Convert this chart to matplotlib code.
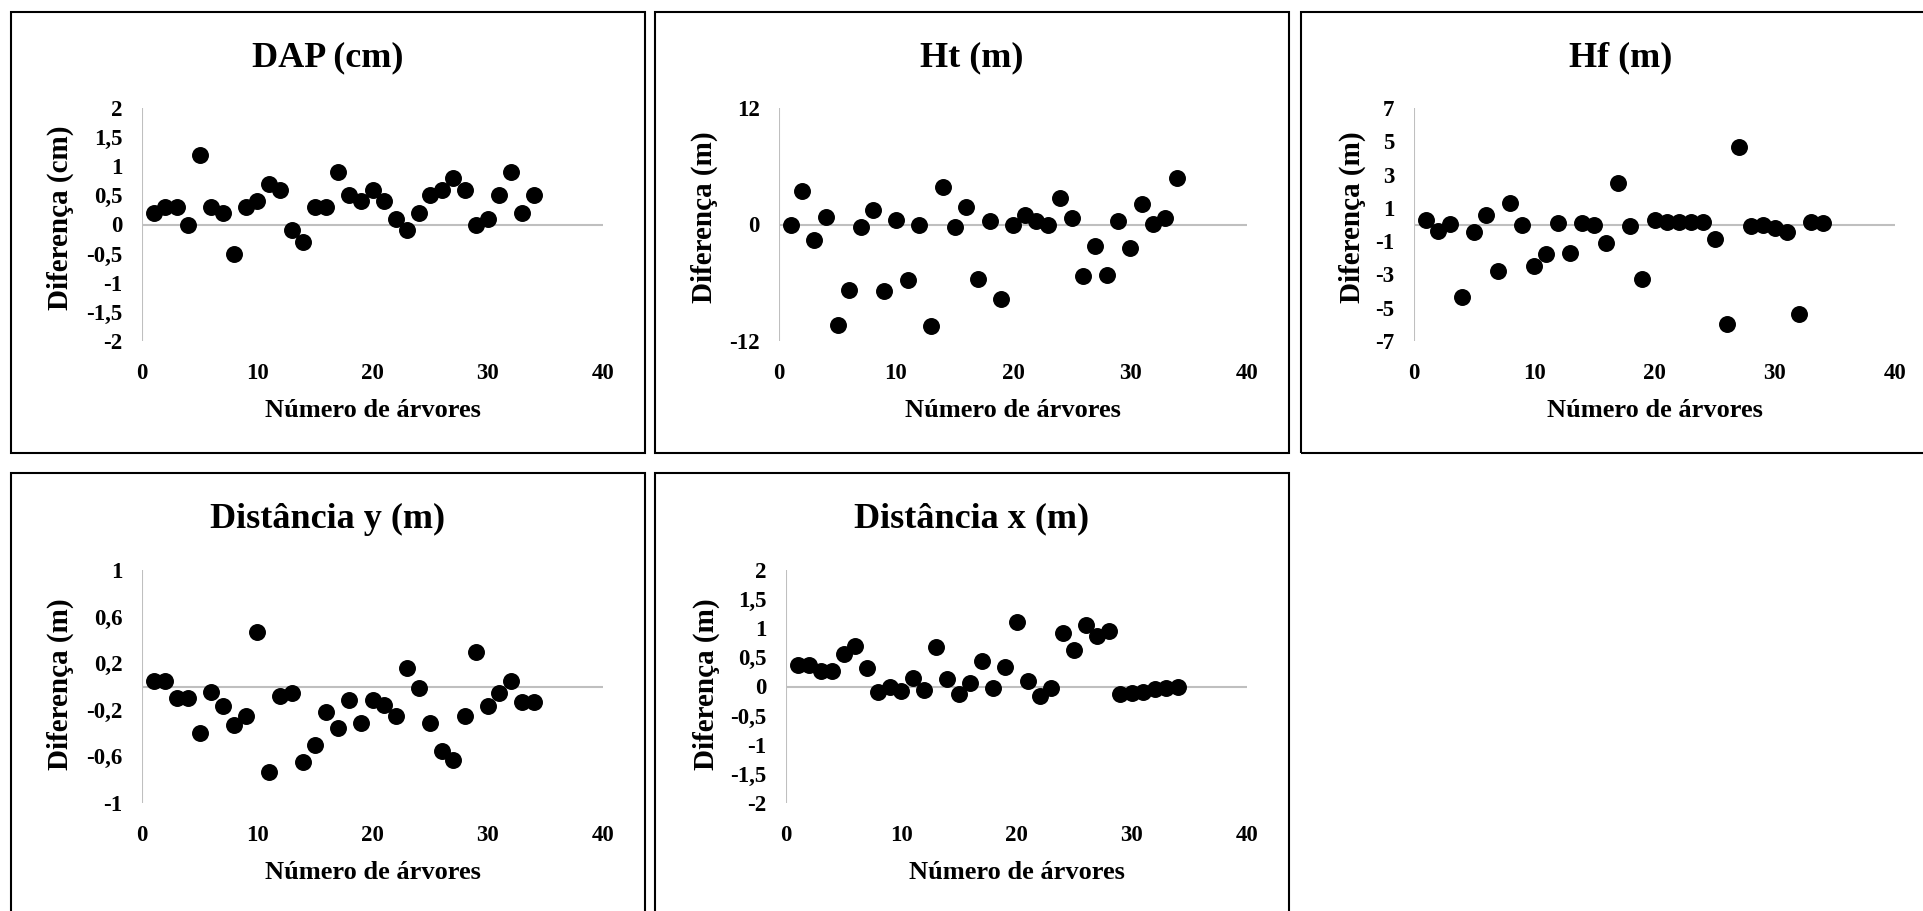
import matplotlib
matplotlib.use("Agg")
import matplotlib.pyplot as plt
from matplotlib.patches import Rectangle

plt.rcParams['font.family'] = ['Liberation Serif', 'DejaVu Serif']
plt.rcParams['font.weight'] = 'bold'

# tree number 1..34
arvores = list(range(1, 35))

# differences
dap = [0.2, 0.3, 0.3, 0.0, 1.2, 0.3, 0.2, -0.5, 0.3, 0.4,
       0.7, 0.6, -0.1, -0.3, 0.3, 0.3, 0.9, 0.5, 0.4, 0.6,
       0.4, 0.1, -0.1, 0.2, 0.5, 0.6, 0.8, 0.6, 0.0, 0.1,
       0.5, 0.9, 0.2, 0.5]
ht = [0.0, 3.5, -1.6, 0.8, -10.4, -6.7, -0.3, 1.5, -6.8, 0.5,
      -5.7, -0.1, -10.5, 3.9, -0.3, 1.8, -5.6, 0.4, -7.7, -0.1,
      1.0, 0.4, -0.1, 2.7, 0.7, -5.3, -2.2, -5.2, 0.35, -2.4,
      2.1, 0.1, 0.7, 4.8]
hf = [0.3, -0.4, 0.05, -4.35, -0.45, 0.6, -2.8, 1.3, 0.0, -2.5,
      -1.8, 0.1, -1.7, 0.1, 0.0, -1.1, 2.5, -0.1, -3.25, 0.3,
      0.15, 0.15, 0.15, 0.15, -0.9, -5.95, 4.65, -0.1, 0.0, -0.2,
      -0.45, -5.4, 0.15, 0.1]
dist_y = [0.05, 0.05, -0.1, -0.1, -0.4, -0.05, -0.17, -0.33, -0.25, 0.47,
          -0.73, -0.08, -0.06, -0.65, -0.5, -0.22, -0.36, -0.12, -0.31, -0.12,
          -0.16, -0.25, 0.16, -0.01, -0.31, -0.55, -0.63, -0.25, 0.3, -0.17,
          -0.06, 0.05, -0.13, -0.13]
dist_x = [0.37, 0.37, 0.26, 0.26, 0.56, 0.7, 0.31, -0.09, 0.0, -0.08,
          0.15, -0.06, 0.67, 0.13, -0.13, 0.06, 0.44, -0.03, 0.33, 1.1,
          0.1, -0.16, -0.03, 0.91, 0.62, 1.06, 0.87, 0.95, -0.13, -0.11,
          -0.09, -0.05, -0.02, -0.01]

titles = ['DAP (cm)', 'Ht (m)', 'Hf (m)', 'Distância y (m)', 'Distância x (m)']
ylabels = ['Diferença (cm)', 'Diferença (m)', 'Diferença (m)', 'Diferença (m)', 'Diferença (m)']
series = [dap, ht, hf, dist_y, dist_x]
yticks = [
    [-2, -1.5, -1, -0.5, 0, 0.5, 1, 1.5, 2],
    [-12, 0, 12],
    [-7, -5, -3, -1, 1, 3, 5, 7],
    [-1, -0.6, -0.2, 0.2, 0.6, 1],
    [-2, -1.5, -1, -0.5, 0, 0.5, 1, 1.5, 2],
]
xticks = [0, 10, 20, 30, 40]

W, H = 1923, 911
fig = plt.figure(figsize=(W / 100, H / 100), dpi=100)

# panel boxes (pixels: left, top, right, bottom) and axes boxes
panels = [(11, 12, 645, 453), (655, 12, 1289, 453), (1301, 12, 1930, 453),
          (11, 473, 645, 920), (655, 473, 1289, 920)]
axboxes = [(142, 108, 603, 341), (779, 108, 1247, 341), (1414, 108, 1895, 341),
           (142, 570, 603, 803), (786, 570, 1247, 803)]
title_x = [328, 972, 1621, 328, 972]
ylabel_x = [74, 718, 1366, 74, 720]
ylabel_y = [0.53, 0.53, 0.53, 0.51, 0.51]


def fmt(v):
    return ('%g' % v).replace('.', ',')


for i in range(5):
    pl, pt, pr, pb = panels[i]
    fig.patches.append(Rectangle((pl / W, 1 - pb / H), (pr - pl) / W, (pb - pt) / H,
                                 transform=fig.transFigure, fill=False,
                                 edgecolor='black', linewidth=1.5))
    l, t, r, b = axboxes[i]
    ax = fig.add_axes([l / W, 1 - b / H, (r - l) / W, (b - t) / H])
    yt = yticks[i]
    ax.set_xlim(0, 40)
    ax.set_ylim(yt[0], yt[-1])
    for s in ax.spines.values():
        s.set_visible(False)
    ax.axhline(0, color='#BFBFBF', linewidth=1.5, zorder=1)
    ax.axvline(0, color='#BFBFBF', linewidth=1.5, zorder=1)
    ax.scatter(arvores, series[i], s=125, color='black', zorder=3, clip_on=False)
    ax.set_xticks(xticks)
    ax.set_xticklabels([str(x) for x in xticks])
    ax.set_yticks(yt)
    ax.set_yticklabels([fmt(v) for v in yt])
    ax.tick_params(axis='x', length=0, pad=15.5, labelsize=16.5)
    ax.tick_params(axis='y', length=0, pad=14, labelsize=16.5)
    for lab in ax.get_xticklabels() + ax.get_yticklabels():
        lab.set_fontweight('bold')
    ax.set_xlabel('Número de árvores', fontsize=19, fontweight='bold', labelpad=11)
    ax.set_ylabel(ylabels[i], fontsize=21, fontweight='bold')
    ax.yaxis.set_label_coords((ylabel_x[i] - l) / (r - l), ylabel_y[i])
    fig.text(title_x[i] / W, 1 - (pt + 46) / H,
             titles[i], ha='center', va='center', fontsize=26, fontweight='bold')

fig.savefig('out.png', dpi=100)
